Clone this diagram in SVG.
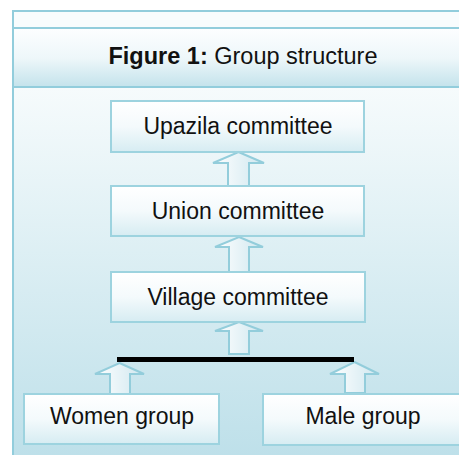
<svg xmlns="http://www.w3.org/2000/svg" width="459" height="455" viewBox="0 0 459 455">
<defs>
<linearGradient id="hdr" x1="0" y1="0" x2="0" y2="1">
<stop offset="0" stop-color="#fdfeff"/>
<stop offset="0.5" stop-color="#eef7fa"/>
<stop offset="1" stop-color="#c2e2eb"/>
</linearGradient>
<linearGradient id="body" x1="0" y1="0" x2="0" y2="1">
<stop offset="0" stop-color="#f6fbfc"/>
<stop offset="1" stop-color="#bcdfe9"/>
</linearGradient>
<linearGradient id="box" x1="0" y1="0" x2="0" y2="1">
<stop offset="0" stop-color="#ffffff"/>
<stop offset="0.5" stop-color="#f4fafc"/>
<stop offset="1" stop-color="#d6ecf2"/>
</linearGradient>
<linearGradient id="arr" x1="0" y1="0" x2="1" y2="0">
<stop offset="0" stop-color="#ffffff"/>
<stop offset="1" stop-color="#cfe7ef"/>
</linearGradient>
</defs>
<style>
.frame{fill:none;stroke:#92cddc;stroke-width:2}
.box{fill:url(#box);stroke:#9dd3df;stroke-width:2}
.arrow{fill:url(#arr);stroke:#93cddb;stroke-width:2;stroke-linejoin:miter}
.lbl{font-family:"Liberation Sans",Arial,sans-serif;font-size:23px;fill:#111;text-anchor:middle}
.ttl{font-size:23.5px}
</style>
<g id="background">
<rect x="13" y="11" width="460" height="17" fill="#f8fcfd"/>
<rect x="13" y="28" width="460" height="60" fill="url(#hdr)"/>
<rect x="13" y="88" width="460" height="380" fill="url(#body)"/>
<rect class="frame" x="13" y="11" width="460" height="460"/>
<line class="frame" x1="13" y1="28" x2="473" y2="28"/>
<line class="frame" x1="13" y1="87" x2="473" y2="87"/>
</g>
<g id="title">
<text class="lbl ttl" x="243" y="64"><tspan font-weight="bold">Figure 1:</tspan> Group structure</text>
</g>
<g id="connectors">
<polygon class="arrow" points="238.5,152 264,163 249,163 249,186 228,186 228,163 213,163"/>
<polygon class="arrow" points="239,237 263,247 249,247 249,272 229,272 229,247 215,247"/>
<polygon class="arrow" points="239,322 263,331 249,331 249,354 229,354 229,331 215,331"/>
<polygon class="arrow" points="119.5,363 144,374 130,374 130,394 110,394 110,374 95,374"/>
<polygon class="arrow" points="354.5,362 379,374 365,374 365,393 345,393 345,374 330,374"/>
<rect x="117" y="357" width="237" height="5" fill="#000"/>
</g>
<g id="upazila">
<rect class="box" x="111" y="101" width="253" height="51"/>
<text class="lbl" x="238" y="134">Upazila committee</text>
</g>
<g id="union">
<rect class="box" x="111" y="186" width="253" height="50"/>
<text class="lbl" x="238" y="219">Union committee</text>
</g>
<g id="village">
<rect class="box" x="111" y="272" width="254" height="50"/>
<text class="lbl" x="238" y="305">Village committee</text>
</g>
<g id="women">
<rect class="box" x="24" y="394" width="195" height="50"/>
<text class="lbl" x="122" y="424">Women group</text>
</g>
<g id="male">
<rect class="box" x="263" y="394" width="200" height="51"/>
<text class="lbl" x="363" y="424">Male group</text>
</g>
</svg>
